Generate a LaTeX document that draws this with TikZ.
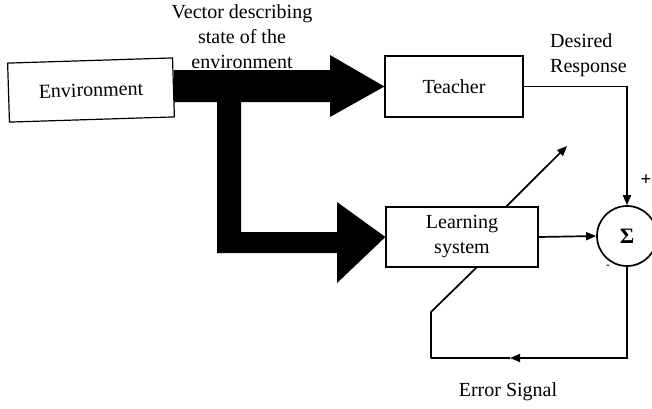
\documentclass[tikz,border=0pt]{standalone}
\usepackage{fontspec}
\setmainfont{Liberation Serif}
\usetikzlibrary{arrows.meta,calc}
\begin{document}
\begin{tikzpicture}[x=1pt,y=-1pt,
  font=\fontsize{20}{25}\selectfont,
  blockbox/.style={draw,line width=1.2pt,fill=white,inner sep=0pt,align=center},
  sig/.style={line width=1.7pt},
  tip/.style={-{Triangle[length=10pt,width=8pt]}},
  lbl/.style={inner sep=0pt,align=center}]
\useasboundingbox (0,0) rectangle (652,408);

% blocks
\node[blockbox,minimum width=165pt,minimum height=59pt,rotate=1.8] (env) at (91,90) {Environment};
\node[blockbox,minimum width=138pt,minimum height=61pt] (teacher) at (454,86.5) {Teacher};
\node[blockbox,minimum width=152pt,minimum height=60pt] (learn) at (462,237) {Learning\\system};
\node[draw,circle,line width=1.7pt,minimum size=60pt,inner sep=0pt,font=\fontsize{22}{24}\selectfont\bfseries] (sum) at (627,236) {Σ};

% broad state vector feeding teacher and learning system
\fill (env.east |- 0,70) -- (330,70) -- (330,55) -- (teacher.west) -- (330,117) -- (330,102)
  -- (241,102) -- (241,232) -- (337,232) -- (337,202) -- (learn.west) -- (337,283) -- (337,253)
  -- (217,253) -- (217,102) -- (env.east |- 0,102) -- cycle;

% desired response and system output into the summer
\draw[sig,tip] (teacher.east) -| (sum.north);
\draw[sig,tip] (learn.east) -- (sum.west);

% error feedback loop
\coordinate (errmid) at (510,358);
\coordinate (errleft) at (431,358);
\coordinate (errup) at (431,312);
\coordinate (adjin) at ($(learn.south west)+(91,0)$);
\coordinate (adjout) at ($(learn.north west)+(121,0)$);
\coordinate (adjtip) at (567,146);
\draw[sig,tip] (sum.south) |- (errmid);
\draw[sig,line join=round] (errmid) -- (errleft) -- (errup) -- (adjin);
\draw[sig,tip] (adjout) -- (adjtip);

% labels
\node[lbl] (vec) at (242,36.5) {Vector describing\\state of the\\environment};
\node[lbl,align=left,anchor=west] (des) at (550,55) {Desired\\Response};
\node[lbl] (err) at (508,392) {Error Signal};
\node[lbl,font=\fontsize{19}{19}\selectfont\bfseries] (plus) at (646,180) {+};
\node[lbl,font=\fontsize{12}{12}\selectfont] (minus) at (608,267) {-};
\end{tikzpicture}
\end{document}
